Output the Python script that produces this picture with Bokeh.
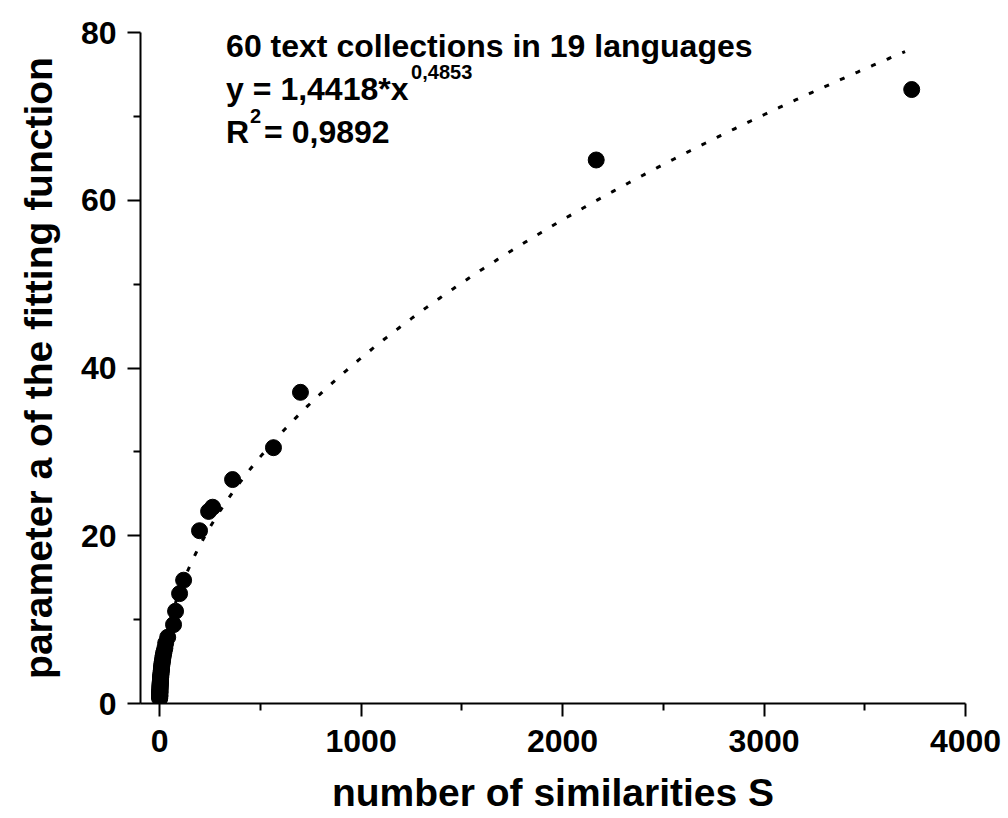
import numpy as np
from bokeh.plotting import figure
from bokeh.models import Range1d, FixedTicker, Label
from bokeh.embed import file_html
from bokeh.resources import INLINE

# Number of similarities S and the fitted parameter a, one entry per text collection
similarities = [
    3733, 2167, 699, 565, 362, 263, 243, 198, 119, 99, 79, 69, 40, 30,
    26, 22, 20, 18, 16, 15, 13, 12, 11, 10, 9, 8.5, 8, 7, 6.5, 6, 5.5, 5,
    4.5, 4.2, 4, 3.6, 3.3, 3, 2.8, 2.5, 2.3, 2.1, 2, 1.8, 1.6, 1.5, 1.3,
    1.2, 1.1, 1, 0.9, 0.8, 0.7, 0.6, 0.5, 0.45, 0.4, 0.35, 0.3, 0.25,
]
param_a = [
    73.2, 64.8, 37.1, 30.5, 26.7, 23.4, 22.9, 20.6, 14.7, 13.1, 11.0, 9.4, 7.9, 7.2,
    6.6, 6.2, 6.0, 5.7, 5.5, 5.2, 5.0, 4.8, 4.6, 4.4, 4.2, 4.0, 3.9, 3.7, 3.5, 3.4,
    3.2, 3.1, 3.0, 2.9, 2.8, 2.7, 2.6, 2.5, 2.4, 2.3, 2.2, 2.1, 2.0, 1.9, 1.8, 1.7,
    1.6, 1.5, 1.4, 1.35, 1.3, 1.2, 1.1, 1.0, 0.95, 0.9, 0.85, 0.8, 0.7, 0.6,
]

# Power-law fit y = A * x^B
FIT_A = 1.4418
FIT_B = 0.4853
R_SQUARED = 0.9892
FIT_X_MAX = 3700

x_ticks = [0, 1000, 2000, 3000, 4000]
x_minor = [500, 1500, 2500, 3500]
y_ticks = [0, 20, 40, 60, 80]
y_minor = [10, 30, 50, 70]

x_title = "number of similarities S"
y_title = "parameter a of the fitting function"
info_line = "60 text collections in 19 languages"

FONT = "Liberation Sans"


def fmt(v):
    return f"{v}".replace(".", ",")


p = figure(
    width=1008, height=818,
    x_range=Range1d(-95, 4000), y_range=Range1d(0, 80),
    output_backend="svg", toolbar_location=None,
    min_border_left=140, min_border_right=43,
    min_border_top=32, min_border_bottom=115,
)
p.grid.visible = False
p.outline_line_color = None
p.background_fill_color = "white"
p.border_fill_color = "white"

p.xaxis.ticker = FixedTicker(ticks=x_ticks, minor_ticks=x_minor)
p.yaxis.ticker = FixedTicker(ticks=y_ticks, minor_ticks=y_minor)
p.xaxis.axis_label = x_title
p.yaxis.axis_label = y_title

for ax in (p.xaxis, p.yaxis):
    ax.axis_line_width = 2
    ax.axis_line_color = "black"
    ax.major_tick_line_width = 2
    ax.major_tick_line_color = "black"
    ax.minor_tick_line_width = 2
    ax.minor_tick_line_color = "black"
    ax.major_tick_out = 13
    ax.major_tick_in = 0
    ax.minor_tick_out = 7
    ax.minor_tick_in = 0
    ax.major_label_text_font = FONT
    ax.major_label_text_font_style = "bold"
    ax.major_label_text_font_size = "32px"
    ax.major_label_text_color = "black"
    ax.axis_label_text_font = FONT
    ax.axis_label_text_font_style = "bold"
    ax.axis_label_text_font_size = "39px"
    ax.axis_label_text_color = "black"

p.xaxis.major_label_standoff = 13
p.yaxis.major_label_standoff = 11
p.xaxis.axis_label_standoff = 16
p.yaxis.axis_label_standoff = 18

# Fitted curve, dotted
fit_x = np.linspace(0, FIT_X_MAX, 600)
fit_y = FIT_A * fit_x ** FIT_B
p.line(fit_x, fit_y, line_color="black", line_width=3, line_dash="5 12")

# Data points
p.scatter(similarities, param_a, size=16, color="black")


def add_text(text, x, y, size, dx=0, **kw):
    p.add_layout(Label(x=x, y=y, x_offset=dx, text=text, text_font=FONT,
                       text_font_style="bold", text_font_size=size,
                       text_color="black", **kw))


# Annotation block
ann_x = 330
add_text(info_line, ann_x, 78.4, "32px", text_baseline="alphabetic")
add_text(f"y = {fmt(FIT_A)}*x", ann_x, 73.3, "32px", text_baseline="alphabetic")
add_text(fmt(FIT_B), ann_x, 75.3, "20px", dx=185, text_baseline="alphabetic")
add_text("R", ann_x, 68.1, "32px", text_baseline="alphabetic")
add_text("2", ann_x, 70.0, "20px", dx=24, text_baseline="alphabetic")
add_text(f" = {fmt(R_SQUARED)}", ann_x, 68.1, "32px", dx=38, text_baseline="alphabetic")

open("out.html", "w").write(file_html(p, INLINE))
